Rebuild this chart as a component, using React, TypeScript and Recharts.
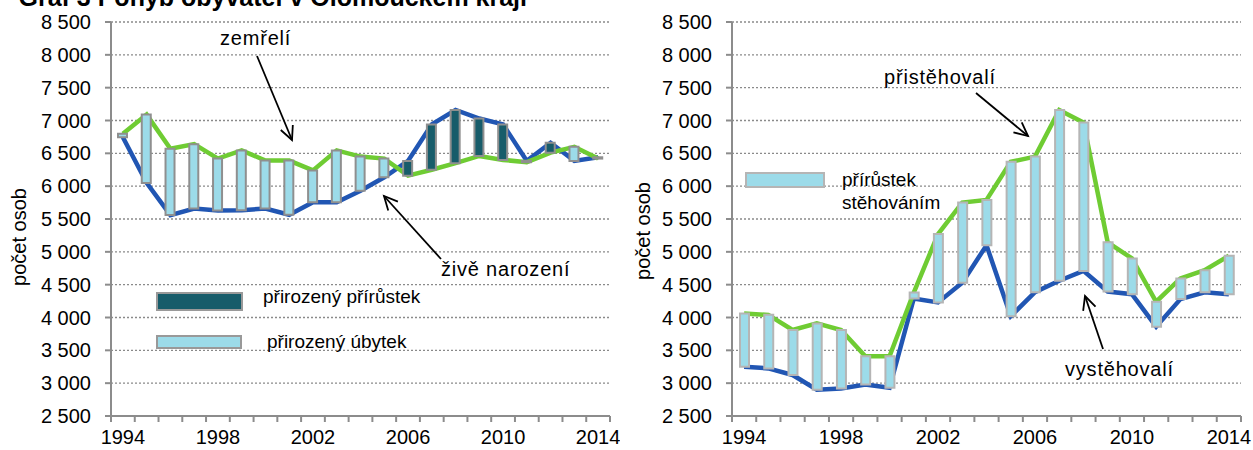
import { Bar, CartesianGrid, Cell, ComposedChart, Line, XAxis, YAxis } from "recharts";

const years = [
  "1994", "1995", "1996", "1997", "1998", "1999", "2000", "2001", "2002", "2003", "2004",
  "2005", "2006", "2007", "2008", "2009", "2010", "2011", "2012", "2013", "2014",
];
// natural change
const zemreli = [6800, 7090, 6570, 6640, 6420, 6545, 6390, 6390, 6240, 6545, 6450, 6420, 6160, 6250, 6350, 6460, 6400, 6365, 6510, 6600, 6420];
const narozeni = [6745, 6050, 5560, 5660, 5630, 5635, 5660, 5565, 5755, 5755, 5930, 6135, 6385, 6940, 7160, 7030, 6940, 6385, 6660, 6385, 6440];
// migration
const pristehovali = [4060, 4040, 3810, 3910, 3810, 3410, 3410, 4380, 5270, 5750, 5790, 6370, 6450, 7160, 6970, 5145, 4900, 4240, 4595, 4720, 4940];
const vystehovali = [3250, 3225, 3125, 2900, 2920, 2980, 2930, 4290, 4230, 4530, 5100, 4020, 4385, 4560, 4710, 4395, 4355, 3860, 4280, 4385, 4355];

const yTicks = [2500, 3000, 3500, 4000, 4500, 5000, 5500, 6000, 6500, 7000, 7500, 8000, 8500];

const GREEN = "#6fcc33";
const BLUE = "#2156b3";
const LIGHT = "#9cdbe9";
const DARK = "#175c6a";
const AXIS = "#8c8c8c";
const FONT = "Arial, 'Liberation Sans', sans-serif";

const CHART_H = 450;
const PLOT_TOP = 22;
const X_AXIS_H = 34;
const PLOT_BOTTOM = CHART_H - X_AXIS_H;
const Y_AXIS_W = 111;

const natData = years.map((year, i) => ({ year, zemreli: zemreli[i], narozeni: narozeni[i] }));
const migData = years.map((year, i) => ({ year, pristehovali: pristehovali[i], vystehovali: vystehovali[i] }));

const fmt = (v: number) => `${Math.floor(v / 1000)} ${String(v % 1000).padStart(3, "0")}`;

function makeTick(band: number) {
  return function YearTick(props: any) {
    const { x, payload, index } = props;
    const left = x - band / 2;
    return (
      <g>
        <line x1={left} y1={PLOT_BOTTOM} x2={left} y2={PLOT_BOTTOM + 6} stroke={AXIS} strokeWidth={2} />
        {index === years.length - 1 && (
          <line x1={x + band / 2} y1={PLOT_BOTTOM} x2={x + band / 2} y2={PLOT_BOTTOM + 6} stroke={AXIS} strokeWidth={2} />
        )}
        {index % 4 === 0 && (
          <text x={x} y={PLOT_BOTTOM + 14} dy="0.72em" textAnchor="middle" fontSize={20} fontFamily={FONT} fill="#000">
            {payload.value}
          </text>
        )}
      </g>
    );
  };
}

function Arrow({ from, to }: { from: [number, number]; to: [number, number] }) {
  const ang = Math.atan2(to[1] - from[1], to[0] - from[0]);
  const len = 15;
  const spread = 0.45;
  const w1 = [to[0] - len * Math.cos(ang - spread), to[1] - len * Math.sin(ang - spread)];
  const w2 = [to[0] - len * Math.cos(ang + spread), to[1] - len * Math.sin(ang + spread)];
  return (
    <g stroke="#000" strokeWidth={1.8} fill="none">
      <line x1={from[0]} y1={from[1]} x2={to[0]} y2={to[1]} />
      <polyline points={`${w1[0]},${w1[1]} ${to[0]},${to[1]} ${w2[0]},${w2[1]}`} />
    </g>
  );
}

function Panel({
  data, upKey, downKey, width, marginRight, barStroke, band,
}: {
  data: any[]; upKey: string; downKey: string; width: number; marginRight: number; barStroke: string; band: number;
}) {
  const Tick = makeTick(band);
  return (
    <ComposedChart width={width} height={CHART_H} data={data} margin={{ top: PLOT_TOP, right: marginRight, bottom: 0, left: 0 }}>
      <CartesianGrid vertical={false} stroke="#8a8a8a" strokeWidth={1.3} strokeDasharray="2 2" />
      <XAxis
        dataKey="year"
        interval={0}
        height={X_AXIS_H}
        tickLine={false}
        axisLine={{ stroke: AXIS, strokeWidth: 2 }}
        tick={<Tick />}
      />
      <YAxis
        domain={[2500, 8500]}
        ticks={yTicks}
        width={Y_AXIS_W}
        tickFormatter={fmt}
        tickSize={6}
        tickMargin={14}
        axisLine={{ stroke: AXIS, strokeWidth: 2 }}
        tickLine={{ stroke: AXIS, strokeWidth: 2 }}
        tick={{ fill: "#000", fontSize: 20, fontFamily: FONT }}
      />
      <Line dataKey={downKey} type="linear" stroke={BLUE} strokeWidth={4.5} dot={false} isAnimationActive={false} />
      <Line dataKey={upKey} type="linear" stroke={GREEN} strokeWidth={4.5} dot={false} isAnimationActive={false} />
      <Bar
        dataKey={(d: any) => [Math.min(d[upKey], d[downKey]), Math.max(d[upKey], d[downKey])]}
        barSize={9}
        stroke={barStroke}
        strokeWidth={2}
        isAnimationActive={false}
        {...({ zIndex: 500 } as any)}
      >
        {data.map((d, i) => (
          <Cell key={i} fill={d[downKey] > d[upKey] ? DARK : LIGHT} />
        ))}
      </Bar>
    </ComposedChart>
  );
}

export default function App() {
  const textStyle = { fontFamily: FONT, fontSize: 20, fill: "#000" } as const;
  return (
    <div style={{ position: "absolute", left: 0, top: 0, width: 1253, height: 450, background: "#fff", overflow: "hidden" }}>
      <div style={{ position: "absolute", left: 0, top: 0 }}>
        <Panel data={natData} upKey="zemreli" downKey="narozeni" width={620} marginRight={10} barStroke="#8f8f8f" band={499 / 21} />
      </div>
      <div style={{ position: "absolute", left: 621, top: 0 }}>
        <Panel data={migData} upKey="pristehovali" downKey="vystehovali" width={632} marginRight={12} barStroke="#b5b5b5" band={509 / 21} />
      </div>
      <svg width={1253} height={450} style={{ position: "absolute", left: 0, top: 0, pointerEvents: "none" }}>
        <text x={527} y={6} textAnchor="end" fontFamily={FONT} fontSize={25} fontWeight="bold" fill="#000">
          Graf 3 Pohyb obyvatel v Olomouckém kraji
        </text>
        <text transform="translate(19,237) rotate(-90)" textAnchor="middle" dominantBaseline="central" {...textStyle}>
          počet osob
        </text>
        <text transform="translate(643,231) rotate(-90)" textAnchor="middle" dominantBaseline="central" {...textStyle}>
          počet osob
        </text>

        <text x={220} y={45} letterSpacing={0.8} {...textStyle}>zemřelí</text>
        <Arrow from={[257, 56]} to={[292, 140]} />
        <text x={441} y={276} letterSpacing={0.8} {...textStyle}>živě narození</text>
        <Arrow from={[441, 259]} to={[384, 196]} />
        <text x={884} y={84} letterSpacing={0.8} {...textStyle}>přistěhovalí</text>
        <Arrow from={[976, 93]} to={[1028, 136]} />
        <text x={1065} y={376} letterSpacing={0.8} {...textStyle}>vystěhovalí</text>
        <Arrow from={[1103, 349]} to={[1085, 296]} />

        <rect x={157} y={293} width={85} height={17} fill={DARK} stroke="#999" strokeWidth={2} />
        <text x={263} y={303} {...textStyle} fontSize={19}>přirozený přírůstek</text>
        <rect x={157} y={336} width={84} height={12} fill={LIGHT} stroke="#999" strokeWidth={2} />
        <text x={267} y={348} {...textStyle} fontSize={19}>přirozený úbytek</text>

        <rect x={746} y={173} width={78} height={14} fill={LIGHT} stroke="#b5b5b5" strokeWidth={2} />
        <text x={842} y={186} {...textStyle} fontSize={19}>přírůstek</text>
        <text x={842} y={209} {...textStyle} fontSize={19}>stěhováním</text>
      </svg>
    </div>
  );
}
